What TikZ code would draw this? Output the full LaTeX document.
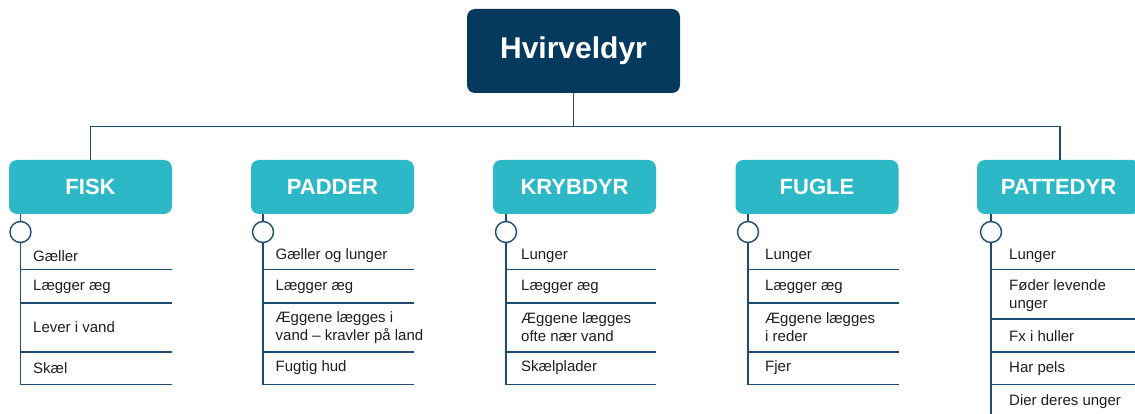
\documentclass[tikz,border=0pt]{standalone}
\usepackage{fontspec}
\setmainfont{Liberation Sans}
\definecolor{navy}{HTML}{053A5E}
\definecolor{tealbox}{HTML}{2DB8C7}
\definecolor{lineblue}{HTML}{1D4B71}
\definecolor{txt}{HTML}{1E1E1E}
\begin{document}
\begin{tikzpicture}[x=1pt,y=-1pt,
  topbox/.style={fill=navy, rounded corners=8pt, minimum width=213pt, minimum height=84pt, text=white, font=\fontsize{30}{36}\selectfont\bfseries, inner sep=0pt},
  catbox/.style={fill=tealbox, rounded corners=8pt, minimum width=163pt, minimum height=54pt, text=white, font=\fontsize{22}{26}\selectfont\bfseries, inner sep=0pt},
  item/.style={anchor=west, text=txt, font=\fontsize{15}{18}\selectfont, align=left, inner sep=0pt},
  link/.style={draw=lineblue, line width=1.4pt},
  ring/.style={circle, draw=lineblue, line width=1.4pt, fill=white, minimum size=21pt, inner sep=0pt}]
\useasboundingbox (0,0) rectangle (1135,414);
\clip (0,0) rectangle (1135,414);

\node[topbox] (top) at (573.5,51) {Hvirveldyr};

\node[catbox] (fisk) at (90.5,187) {FISK};
\node[catbox] (padder) at (332.5,187) {PADDER};
\node[catbox] (kryb) at (574.5,187) {KRYBDYR};
\node[catbox] (fugle) at (817,187) {FUGLE};
\node[catbox] (patte) at (1058.5,187) {PATTEDYR};

\coordinate (bus) at (573.5,126.5);
\draw[link] (top.south) -- (top.south |- bus);
\draw[link] (fisk.north) -- (fisk.north |- bus) -- ([xshift=1.5pt]patte.north |- bus) -- ([xshift=1.5pt]patte.north);

% column helper coordinates
\foreach \c/\x in {fisk/20.5, padder/263, kryb/506, fugle/748, patte/991}{
  \node[ring] (\c-ring) at (\x,232) {};
  \draw[link] (\c.south -| \c-ring) -- (\c-ring.north);
}

% FISK
\draw[link] (fisk-ring.south) -- (20.5,384.5);
\foreach \y in {269.5,303,352,384.5}{\draw[link] (20.5,\y) -- (fisk.east |- 0,\y);}
\node[item] (f1) at (33,256) {Gæller};
\node[item] (f2) at (33,286.5) {Lægger æg};
\node[item] (f3) at (33,327.5) {Lever i vand};
\node[item] (f4) at (33,368) {Skæl};

% PADDER
\draw[link] (padder-ring.south) -- (263,384.5);
\foreach \y in {269.5,303,352,384.5}{\draw[link] (263,\y) -- (padder.east |- 0,\y);}
\node[item] (p1) at (275.5,256) {Gæller og lunger};
\node[item] (p2) at (275.5,286.5) {Lægger æg};
\node[item] (p3) at (275.5,327.5) {Æggene lægges i\\vand – kravler på land};
\node[item] (p4) at (275.5,368) {Fugtig hud};

% KRYBDYR
\draw[link] (kryb-ring.south) -- (506,384.5);
\foreach \y in {269.5,303,352,384.5}{\draw[link] (506,\y) -- (kryb.east |- 0,\y);}
\node[item] (k1) at (521,256) {Lunger};
\node[item] (k2) at (521,286.5) {Lægger æg};
\node[item] (k3) at (521,327.5) {Æggene lægges\\ofte nær vand};
\node[item] (k4) at (521,368) {Skælplader};

% FUGLE
\draw[link] (fugle-ring.south) -- (748,384.5);
\foreach \y in {269.5,303,352,384.5}{\draw[link] (748,\y) -- (fugle.east |- 0,\y);}
\node[item] (g1) at (765,256) {Lunger};
\node[item] (g2) at (765,286.5) {Lægger æg};
\node[item] (g3) at (765,327.5) {Æggene lægges\\i reder};
\node[item] (g4) at (765,368) {Fjer};

% PATTEDYR
\draw[link] (patte-ring.south) -- (991,420);
\foreach \y in {269.5,319,352,384.5}{\draw[link] (991,\y) -- (1140,\y);}
\node[item] (t1) at (1009,256) {Lunger};
\node[item] (t2) at (1009,295.5) {Føder levende\\unger};
\node[item] (t3) at (1009,336) {Fx i huller};
\node[item] (t4) at (1009,368.5) {Har pels};
\node[item] (t5) at (1009,402) {Dier deres unger};
\end{tikzpicture}
\end{document}
